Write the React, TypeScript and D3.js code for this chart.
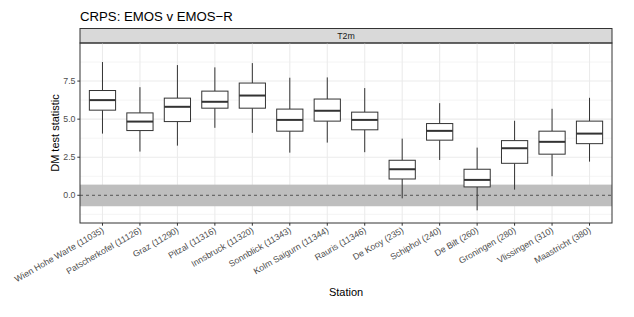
import * as d3 from "d3"
import { useEffect } from "react"

// stations along x
const stations: string[] = [
  "Wien Hohe Warte (11035)", "Patscherkofel (11126)", "Graz (11290)", "Pitzal (11316)",
  "Innsbruck (11320)", "Sonnblick (11343)", "Kolm Saigurn (11344)", "Rauris (11346)",
  "De Kooy (235)", "Schiphol (240)", "De Bilt (260)", "Groningen (280)",
  "Vlissingen (310)", "Maastricht (380)",
]
// box stats
const whiskerLow: number[] = [4.05, 2.87, 3.26, 4.43, 4.1, 2.8, 3.46, 2.83, -0.2, 2.32, -0.99, 0.37, 1.25, 2.21]
const q1: number[] = [5.59, 4.25, 4.84, 5.72, 5.72, 4.21, 4.87, 4.3, 1.07, 3.62, 0.55, 2.1, 2.7, 3.39]
const median: number[] = [6.25, 4.84, 5.81, 6.14, 6.55, 4.95, 5.55, 4.95, 1.71, 4.23, 1.01, 3.09, 3.51, 4.05]
const q3: number[] = [6.88, 5.41, 6.38, 6.84, 7.37, 5.66, 6.32, 5.46, 2.3, 4.71, 1.71, 3.59, 4.21, 4.87]
const whiskerHigh: number[] = [8.75, 7.1, 8.55, 8.4, 8.68, 7.72, 7.74, 7.04, 3.72, 6.05, 3.13, 4.89, 5.68, 6.4]

const yTicks: number[] = [0, 2.5, 5, 7.5]
const yMinor: number[] = [-1.25, 1.25, 3.75, 6.25, 8.75]
const band: number[] = [-0.72, 0.7]

const W = 634
const H = 317
const left = 80, right = 612, top = 43, bottom = 223
const font = "'Liberation Sans', Arial, sans-serif"

export default function App() {
  useEffect(() => {
    document.body.style.margin = "0"
  }, [])

  const x = d3.scalePoint<string>().domain(stations).range([left, right]).padding(0.6)
  const y = d3.scaleLinear().domain([-1.82, 10.0]).range([bottom, top])
  const bw = x.step() * 0.7

  const rows = stations.map((s, i) => ({
    s, lo: whiskerLow[i], q1: q1[i], med: median[i], q3: q3[i], hi: whiskerHigh[i],
  }))

  return (
    <svg width={W} height={H} style={{ display: "block", position: "absolute", left: 0, top: 0 }} fontFamily={font}>
      <rect width={W} height={H} fill="white" />
      <text x={left} y={20.5} fontSize={13.2} fill="black">CRPS: EMOS v EMOS−R</text>

      {/* strip */}
      <rect x={left} y={28.5} width={right - left} height={top - 28.5} fill="#D9D9D9" stroke="#333333" strokeWidth={1} />
      <text x={(left + right) / 2} y={39.2} fontSize={8.8} fill="#1A1A1A" textAnchor="middle">T2m</text>

      {/* grid */}
      {yMinor.map((v) => (
        <line key={"m" + v} x1={left} x2={right} y1={y(v)} y2={y(v)} stroke="#EBEBEB" strokeWidth={0.55} />
      ))}
      {yTicks.map((v) => (
        <line key={"g" + v} x1={left} x2={right} y1={y(v)} y2={y(v)} stroke="#EBEBEB" strokeWidth={1.07} />
      ))}
      {stations.map((s) => (
        <line key={"gx" + s} x1={x(s)} x2={x(s)} y1={top} y2={bottom} stroke="#EBEBEB" strokeWidth={1.07} />
      ))}

      {/* band and zero line */}
      <rect x={left} y={y(band[1])} width={right - left} height={y(band[0]) - y(band[1])} fill="#BEBEBE" />
      <line x1={left} x2={right} y1={y(0)} y2={y(0)} stroke="#555" strokeWidth={1} strokeDasharray="3,3" />

      {/* boxes */}
      {rows.map((r) => {
        const cx = x(r.s) as number
        return (
          <g key={r.s} stroke="#333333" fill="white">
            <line x1={cx} x2={cx} y1={y(r.hi)} y2={y(r.q3)} strokeWidth={1} />
            <line x1={cx} x2={cx} y1={y(r.q1)} y2={y(r.lo)} strokeWidth={1} />
            <rect x={cx - bw / 2} y={y(r.q3)} width={bw} height={y(r.q1) - y(r.q3)} strokeWidth={1} />
            <line x1={cx - bw / 2} x2={cx + bw / 2} y1={y(r.med)} y2={y(r.med)} strokeWidth={2} />
          </g>
        )
      })}

      {/* panel border */}
      <rect x={left} y={top} width={right - left} height={bottom - top} fill="none" stroke="#333333" strokeWidth={1} />

      {/* y axis */}
      {yTicks.map((v) => (
        <g key={"yt" + v}>
          <line x1={left - 2.7} x2={left} y1={y(v)} y2={y(v)} stroke="#333333" strokeWidth={1} />
          <text x={left - 4.5} y={y(v) + 3.1} fontSize={8.8} fill="#4D4D4D" textAnchor="end">{v.toFixed(1)}</text>
        </g>
      ))}
      <text transform={`translate(${59},${(top + bottom) / 2}) rotate(-90)`} fontSize={11} textAnchor="middle" fill="black">DM test statistic</text>

      {/* x axis */}
      {stations.map((s) => (
        <g key={"xt" + s}>
          <line x1={x(s)} x2={x(s)} y1={bottom} y2={bottom + 2.7} stroke="#333333" strokeWidth={1} />
          <text transform={`translate(${(x(s) as number) + 2},${bottom + 9}) rotate(-30)`} fontSize={8.8} fill="#4D4D4D" textAnchor="end">{s}</text>
        </g>
      ))}
      <text x={(left + right) / 2} y={296} fontSize={11} textAnchor="middle" fill="black">Station</text>
    </svg>
  )
}
